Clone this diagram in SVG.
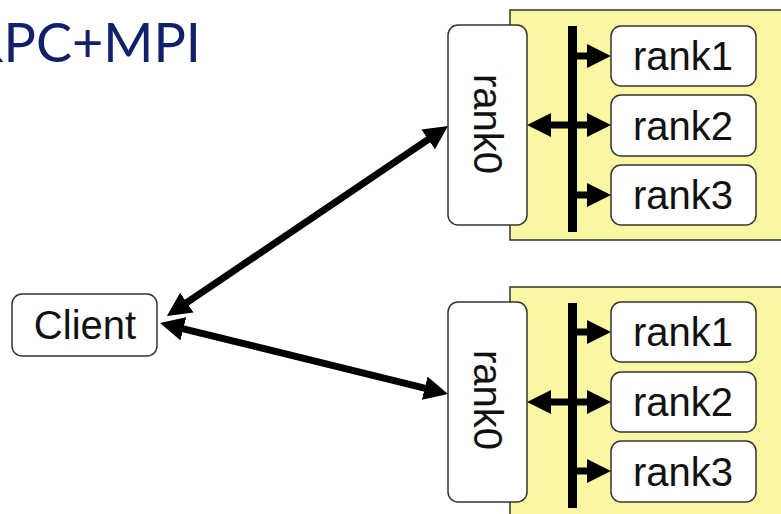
<svg xmlns="http://www.w3.org/2000/svg" width="781" height="514" viewBox="0 0 781 514">
  <style>
    .bg { fill: #ffffff; }
    .host { fill: #faf7a3; stroke: #333333; stroke-width: 1.5; }
    .node { fill: #ffffff; stroke: #333333; stroke-width: 1.5; }
    .label { font-family: "Liberation Sans", Arial, sans-serif; font-size: 40px; fill: #111111; text-anchor: middle; }
    .title { font-family: Lato, "Open Sans", sans-serif; font-size: 54px; fill: #10216a; }
    .bus { fill: #000000; }
    .link { stroke: #000000; stroke-width: 7; fill: none; }
  </style>
  <defs>
    <!-- filled arrowhead, anchored 2px inside its base so the shaft hides under it -->
    <marker id="head" markerUnits="userSpaceOnUse" viewBox="0 0 24 24" markerWidth="24" markerHeight="24" refX="2" refY="12" orient="auto-start-reverse">
      <path d="M0,0 L24,12 L0,24 z" fill="#000000"/>
    </marker>
  </defs>

  <rect class="bg" x="0" y="0" width="781" height="514"/>

  <text class="title" x="201" y="62" text-anchor="end">RPC+MPI</text>

  <!-- upper host -->
  <g id="host1">
    <rect class="host" x="510" y="10" width="290" height="230"/>
    <rect class="bus" x="568" y="26" width="9" height="206"/>
  </g>
  <g id="host1-rank0">
    <rect class="node" x="448" y="25" width="79" height="200" rx="10"/>
    <text class="label" transform="translate(474,124) rotate(90)">rank0</text>
  </g>
  <g id="host1-rank1">
    <rect class="node" x="611" y="26" width="145" height="60" rx="10"/>
    <text class="label" x="683" y="70">rank1</text>
  </g>
  <g id="host1-rank2">
    <rect class="node" x="611" y="95" width="145" height="61" rx="10"/>
    <text class="label" x="683" y="140">rank2</text>
  </g>
  <g id="host1-rank3">
    <rect class="node" x="611" y="165" width="145" height="60" rx="10"/>
    <text class="label" x="683" y="209">rank3</text>
  </g>

  <!-- lower host -->
  <g id="host2">
    <rect class="host" x="510" y="287" width="290" height="240"/>
    <rect class="bus" x="568" y="303" width="9" height="205"/>
  </g>
  <g id="host2-rank0">
    <rect class="node" x="448" y="302" width="79" height="200" rx="10"/>
    <text class="label" transform="translate(474,400) rotate(90)">rank0</text>
  </g>
  <g id="host2-rank1">
    <rect class="node" x="611" y="302" width="145" height="60" rx="10"/>
    <text class="label" x="683" y="346">rank1</text>
  </g>
  <g id="host2-rank2">
    <rect class="node" x="611" y="372" width="145" height="60" rx="10"/>
    <text class="label" x="683" y="416">rank2</text>
  </g>
  <g id="host2-rank3">
    <rect class="node" x="611" y="441" width="145" height="61" rx="10"/>
    <text class="label" x="683" y="486">rank3</text>
  </g>

  <!-- client -->
  <g id="client">
    <rect class="node" x="12" y="294" width="145" height="62" rx="10"/>
    <text class="label" x="85" y="339">Client</text>
  </g>

  <!-- connectors: shaft ends sit 22px short of each arrow tip -->
  <g id="connectors">
    <line class="link" x1="185.2" y1="303.7" x2="429.8" y2="138.3" marker-start="url(#head)" marker-end="url(#head)"/>
    <line class="link" x1="181.4" y1="328.3" x2="426.6" y2="388.7" marker-start="url(#head)" marker-end="url(#head)"/>

    <line class="link" x1="572" y1="56" x2="589" y2="56" marker-end="url(#head)"/>
    <line class="link" x1="549" y1="125" x2="589" y2="125" marker-start="url(#head)" marker-end="url(#head)"/>
    <line class="link" x1="572" y1="195" x2="589" y2="195" marker-end="url(#head)"/>

    <line class="link" x1="572" y1="332" x2="589" y2="332" marker-end="url(#head)"/>
    <line class="link" x1="549" y1="402" x2="589" y2="402" marker-start="url(#head)" marker-end="url(#head)"/>
    <line class="link" x1="572" y1="471" x2="589" y2="471" marker-end="url(#head)"/>
  </g>
</svg>
